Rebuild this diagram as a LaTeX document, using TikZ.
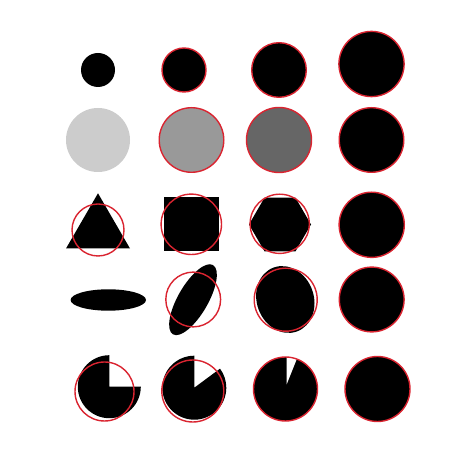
\documentclass[tikz,border=0pt]{standalone}
\begin{document}
\begin{tikzpicture}[x=1pt,y=1pt,
  ring/.style={draw=ringred,line width=1.4pt},
  blk/.style={fill=black}]
\definecolor{ringred}{RGB}{218,36,48}
\useasboundingbox[fill=white] (0,0) rectangle (468,470);
% Row 1
\fill[blk] (98,400) circle[radius=17];
\fill[blk] (184,400) circle[radius=22];
\draw[ring] (184,400) circle[radius=22];
\fill[blk] (279,400) circle[radius=27.3];
\draw[ring] (279,400) circle[radius=27.3];
\fill[blk] (371.5,406) circle[radius=32.6];
\draw[ring] (371.5,406) circle[radius=32.6];
% Row 2
\fill[black!20] (98,330) circle[radius=32];
\fill[black!40] (191.5,330) circle[radius=32.3];
\draw[ring] (191.5,330) circle[radius=32.3];
\fill[black!60] (279,330) circle[radius=32.5];
\draw[ring] (279,330) circle[radius=32.5];
\fill[blk] (371.5,330) circle[radius=32.3];
\draw[ring] (371.5,330) circle[radius=32.3];
% Row 3
\fill[blk] (98,276.7) -- (66,221.5) -- (130,221.5) -- cycle;
\draw[ring] (98,240) circle[radius=26];
\fill[blk] (164,219.2) rectangle (219,272.7);
\draw[ring] (191.3,245.7) circle[radius=30.2];
\fill[blk] (311,245.5) -- (295.5,272.3) -- (264.5,272.3) -- (249,245.5) -- (264.5,218.7) -- (295.5,218.7) -- cycle;
\draw[ring] (279.7,246.2) circle[radius=29.6];
\fill[blk] (371.7,245.2) circle[radius=32.6];
\draw[ring] (371.7,245.2) circle[radius=32.6];
% Row 4
\fill[blk] (108.3,170) ellipse[x radius=37.7,y radius=10.7];
\fill[blk,rotate around={60:(193,170.3)}] (193,170.3) ellipse[x radius=40,y radius=15];
\draw[ring] (193.2,170.5) circle[radius=27.4];
\fill[blk,rotate around={110:(285.3,170.5)}] (285.3,170.5) ellipse[x radius=34,y radius=28.5];
\draw[ring] (285.7,170.3) circle[radius=31.5];
\fill[blk] (371.7,170.5) circle[radius=32.4];
\draw[ring] (371.7,170.5) circle[radius=32.4];
% Row 5
\fill[blk] (109.3,83.3) -- ++(90:31.5) arc[start angle=90,end angle=360,radius=31.5] -- cycle;
\draw[ring] (104.5,78.5) circle[radius=29.5];
\fill[blk] (194.3,82.3) -- ++(90:32) arc[start angle=90,end angle=396.5,radius=32] -- cycle;
\draw[ring] (192.8,79) circle[radius=31];
\fill[blk] (285.5,81) circle[radius=32];
\fill[white] (286.7,85.7) -- (286.7,113.5) -- (297,111.5) -- cycle;
\draw[ring] (285.5,81) circle[radius=32];
\fill[blk] (377.5,81) circle[radius=32.5];
\draw[ring] (377.5,81) circle[radius=32.5];
\end{tikzpicture}
\end{document}
